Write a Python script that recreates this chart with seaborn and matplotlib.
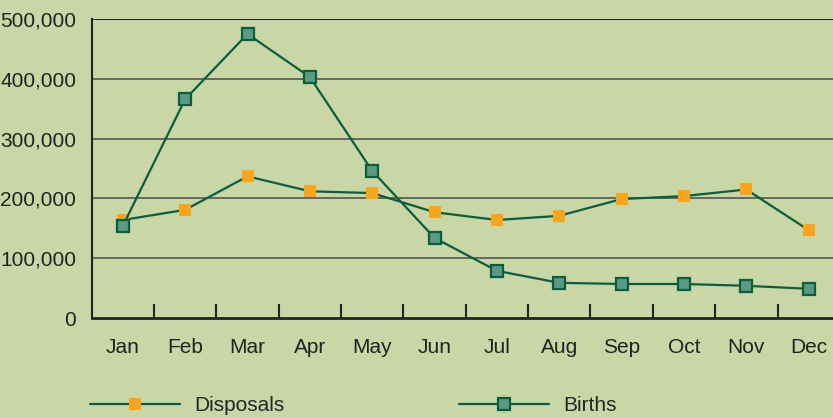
import matplotlib
matplotlib.use("Agg")
import matplotlib.pyplot as plt
from matplotlib.lines import Line2D
from matplotlib.ticker import FuncFormatter
import pandas as pd
import seaborn as sns

months = ["Jan", "Feb", "Mar", "Apr", "May", "Jun", "Jul", "Aug", "Sep", "Oct", "Nov", "Dec"]
disposals = [164000, 181000, 237000, 212000, 209000, 177000, 164000, 171000, 199000, 204000, 215000, 147000]
births = [154000, 366000, 475000, 403000, 246000, 134000, 79000, 59000, 57000, 57000, 54000, 49000]

bg = "#c9d6a6"
line_col = "#0a5e3c"
orange = "#f7a51b"
teal = "#5a9a85"

sns.set_theme(style="white")
plt.rcParams["font.family"] = ["Liberation Sans", "DejaVu Sans"]

df = pd.DataFrame({"month": months, "Disposals": disposals, "Births": births})

fig = plt.figure(figsize=(8.33, 4.18), dpi=100, facecolor=bg)
ax = fig.add_axes([0.110, 0.239, 0.890, 0.7155])
ax.set_facecolor(bg)

for v in [100000, 200000, 300000, 400000]:
    ax.axhline(v, color="#555555", lw=1.2, zorder=1)
ax.axhline(500000, color="#222222", lw=1.5, zorder=1)

sns.lineplot(data=df, x="month", y="Disposals", ax=ax, color=line_col, lw=1.6,
             marker="s", markersize=8.5, markerfacecolor=orange, markeredgecolor=orange,
             markeredgewidth=0, zorder=3)
sns.lineplot(data=df, x="month", y="Births", ax=ax, color=line_col, lw=1.6,
             marker="s", markersize=8, markerfacecolor=teal, markeredgecolor=line_col,
             markeredgewidth=1.6, zorder=4)

ax.set_xlim(-0.5, 11.39)
ax.set_ylim(0, 500000)
ax.set_yticks([0, 100000, 200000, 300000, 400000, 500000])
ax.yaxis.set_major_formatter(FuncFormatter(lambda v, p: f"{int(v):,}"))
ax.set_xticks(range(12))
ax.set_xticklabels(months)
ax.set_xticks([i + 0.5 for i in range(11)], minor=True)
ax.tick_params(axis="x", which="major", length=0, pad=14, labelsize=15, colors="#222222")
ax.tick_params(axis="x", which="minor", direction="in", length=10, width=1.5, color="#222222", bottom=True)
ax.tick_params(axis="y", length=0, pad=11, labelsize=15, colors="#222222")
ax.set_xlabel("")
ax.set_ylabel("")

for s in ["top", "right"]:
    ax.spines[s].set_visible(False)
ax.spines["left"].set_color("#222222")
ax.spines["left"].set_linewidth(1.5)
ax.spines["bottom"].set_color("#222222")
ax.spines["bottom"].set_linewidth(2)

handles = [
    Line2D([0], [0], color=line_col, lw=1.6, marker="s", markersize=8.5,
           markerfacecolor=orange, markeredgewidth=0),
    Line2D([0], [0], color=line_col, lw=1.6, marker="s", markersize=8,
           markerfacecolor=teal, markeredgecolor=line_col, markeredgewidth=1.6),
]
fig.legend(handles, ["Disposals", "Births"], loc="center left", bbox_to_anchor=(0.108, 0.03),
           ncol=2, frameon=False, handlelength=4.3, columnspacing=8.4, fontsize=15,
           handletextpad=0.7, borderpad=0, borderaxespad=0)

fig.savefig("out.png", dpi=100, facecolor=bg)
